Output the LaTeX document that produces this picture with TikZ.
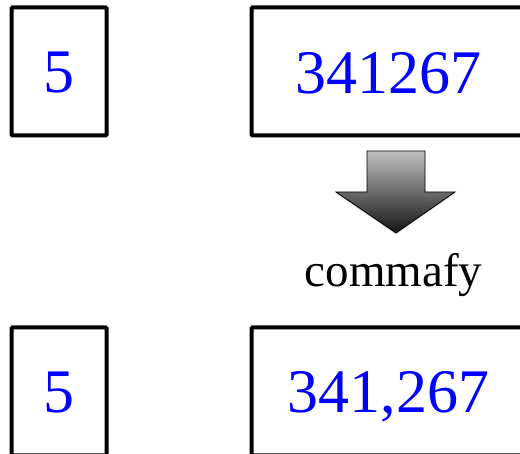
\documentclass[tikz,border=0pt]{standalone}
\usepackage{fontspec}
\setmainfont{Liberation Serif}
\usetikzlibrary{shadows,fadings}
\begin{document}
\begin{tikzpicture}[x=1pt,y=-1pt,
  numbox/.style={draw=black,line width=4pt,rounded corners=1pt,inner sep=0pt,
    minimum height=128pt,text=blue,font=\fontsize{62}{62}\selectfont,text depth=0pt},
  narrowbox/.style={numbox,minimum width=95pt},
  widebox/.style={numbox,minimum width=274pt},
  bigarrow/.style={draw=black,line width=0.8pt,top color=black!25,bottom color=black!92,
    drop shadow={opacity=0.25,shadow xshift=0pt,shadow yshift=-1.5pt}},
  lbl/.style={font=\fontsize{47}{47}\selectfont,text=black,inner sep=0pt}]
\useasboundingbox[clip] (0,0) rectangle (520,454);
\fill[white] (0,0) rectangle (520,454);
\node[narrowbox] (a5) at (59,71.5) {\raisebox{-2pt}{5}};
\node[widebox] (anum) at (388.5,71.5) {\raisebox{-2pt}{341267}};
\node[narrowbox] (b5) at (59,391.5) {\raisebox{-1pt}{5}};
\node[widebox] (bnum) at (388.5,391.5) {\raisebox{-1pt}{341,267}};
\path[bigarrow] (367,151) -- (425,151) -- (425,192) -- (455,192) -- (396,233)
  -- (336,192) -- (367,192) -- cycle;
\node[lbl,anchor=base] (cmd) at (393.5,287) {commafy};
\end{tikzpicture}
\end{document}
